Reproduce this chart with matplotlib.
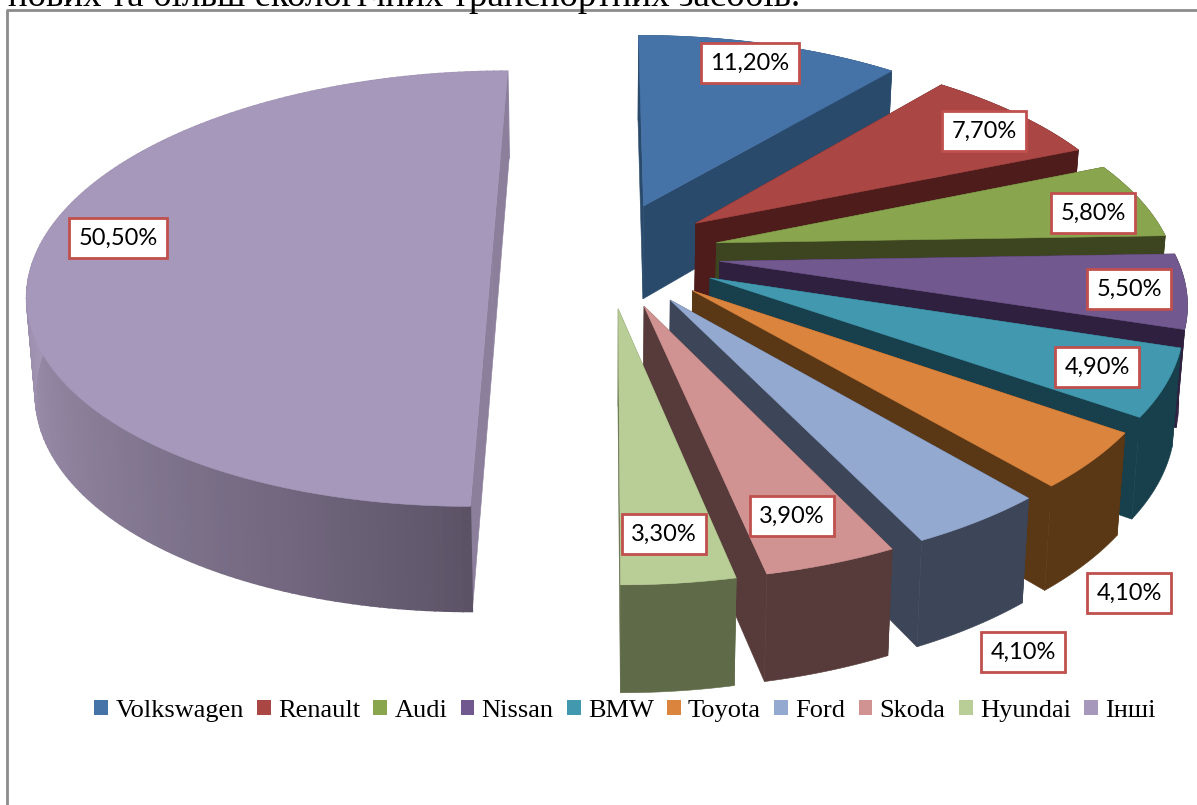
"""3D exploded pie of car brand shares, drawn by hand since matplotlib has no 3D pie"""
import numpy as np
import matplotlib
matplotlib.use('Agg')
import matplotlib.pyplot as plt
from matplotlib.patches import Patch

# Data
brands = ['Volkswagen', 'Renault', 'Audi', 'Nissan', 'BMW', 'Toyota', 'Ford', 'Skoda', 'Hyundai', 'Інші']
shares = [11.2, 7.7, 5.8, 5.5, 4.9, 4.1, 4.1, 3.9, 3.3, 50.5]
share_labels = ['11,20%', '7,70%', '5,80%', '5,50%', '4,90%', '4,10%', '4,10%', '3,90%', '3,30%', '50,50%']
heading = 'нових та більш екологічних транспортних засобів.'

# Colours of the top faces and the side walls
top_colors = ['#4572a7', '#aa4643', '#89a54e', '#71588f', '#4198af', '#db843d', '#93a9cf', '#d19392', '#b9cd96', '#a698bb']
wall_colors = ['#2a4a6c', '#4f1c1c', '#3c451f', '#30203f', '#173f4c', '#5a3715', '#3d4558', '#573a3a', '#5f6b48', '#8c7f9c']

# Where each label box sits, in pixels
label_pos = [(750, 63), (984, 131), (1093, 213), (1129, 289), (1097, 367),
             (1129, 593), (1023, 652), (792, 516), (664, 534), (118, 238)]

# Projection settings, fitted to the picture
CX, CY = 606, 254
RX, RY = 456, 212
PERSP = 0.16
EXPLODE = 0.25
DEPTH = 95
DEPTH_PERSP = 0.096
BOTTOM_SHRINK = 0.985


def project(u, v, bottom=False):
    """Pie plane coordinates to picture pixels"""
    u = np.asarray(u, dtype=float)
    v = np.asarray(v, dtype=float)
    x = CX + RX * u / (1 + PERSP * v)
    y = CY - RY * v / (1 + PERSP * v)
    if bottom:
        x = CX + (x - CX) * BOTTOM_SHRINK
        y = y + DEPTH / (1 + DEPTH_PERSP * v)
    return x, y


def draw_wall(ax, u, v, color, lw=0.4):
    x1, y1 = project(u, v)
    x2, y2 = project(u, v, bottom=True)
    ax.fill(np.r_[x1, x2[::-1]], np.r_[y1, y2[::-1]], color=color, lw=lw)


def draw_slice(ax, start, end, top_color, wall_color, shaded=False):
    mid = (start + end) / 2
    du, dv = EXPLODE * np.sin(mid), EXPLODE * np.cos(mid)
    theta = np.linspace(start, end, 180)
    u = du + np.sin(theta)
    v = dv + np.cos(theta)

    # start wall, then rim, then end wall, then the top goes over them
    draw_wall(ax, [du, u[0]], [dv, v[0]], wall_color)
    if shaded:
        # the big slice gets darker towards the front
        dark = np.array(matplotlib.colors.to_rgb('#5c5266'))
        light = np.array(matplotlib.colors.to_rgb('#a497b6'))
        for i in range(len(theta) - 1):
            t = (theta[i] - np.pi) / (np.pi / 2)
            t = min(max(t, 0), 1)
            draw_wall(ax, u[i:i + 2], v[i:i + 2], dark + (light - dark) * t ** 0.8, lw=1.2)
    else:
        draw_wall(ax, u, v, wall_color)
    draw_wall(ax, [du, u[-1]], [dv, v[-1]], wall_color)

    x, y = project(np.r_[du, u], np.r_[dv, v])
    ax.fill(x, y, color=top_color, lw=0.4)


fig = plt.figure(figsize=(11.97, 8.05), dpi=100)
ax = fig.add_axes([0, 0, 1, 1])
ax.set_xlim(0, 1197)
ax.set_ylim(805, 0)
ax.axis('off')

# Slices, clockwise from the top, back ones first
angles = np.r_[0, np.cumsum(shares)] / np.sum(shares) * 2 * np.pi
for i in range(len(shares)):
    draw_slice(ax, angles[i], angles[i + 1], top_colors[i], wall_colors[i], shaded=(i == len(shares) - 1))

# Data labels
for text, pos in zip(share_labels, label_pos):
    ax.text(pos[0], pos[1], text, ha='center', va='center', fontsize=17, family='Lato', color='black',
            bbox=dict(boxstyle='square,pad=0.4', facecolor='white', edgecolor='#c0504d', linewidth=2))

# Frame of the chart, only its top and left are in the crop
ax.plot([7, 7, 1197], [805, 10, 10], color='#8c8c8c', lw=2)

# Rest of the page text, cut by the crop
ax.text(8, 6, heading, fontsize=26.6, family='Liberation Serif', color='black', ha='left', va='baseline')

# Legend
handles = [Patch(facecolor=c, label=b) for c, b in zip(top_colors, brands)]
ax.legend(handles=handles, ncol=10, frameon=False, loc='center', bbox_to_anchor=(625 / 1197, 1 - 711 / 805),
          prop={'family': 'Liberation Serif', 'size': 19}, handlelength=0.52, handleheight=0.52,
          handletextpad=0.27, columnspacing=0.51, borderpad=0, borderaxespad=0)

plt.savefig('out.png', dpi=100)
